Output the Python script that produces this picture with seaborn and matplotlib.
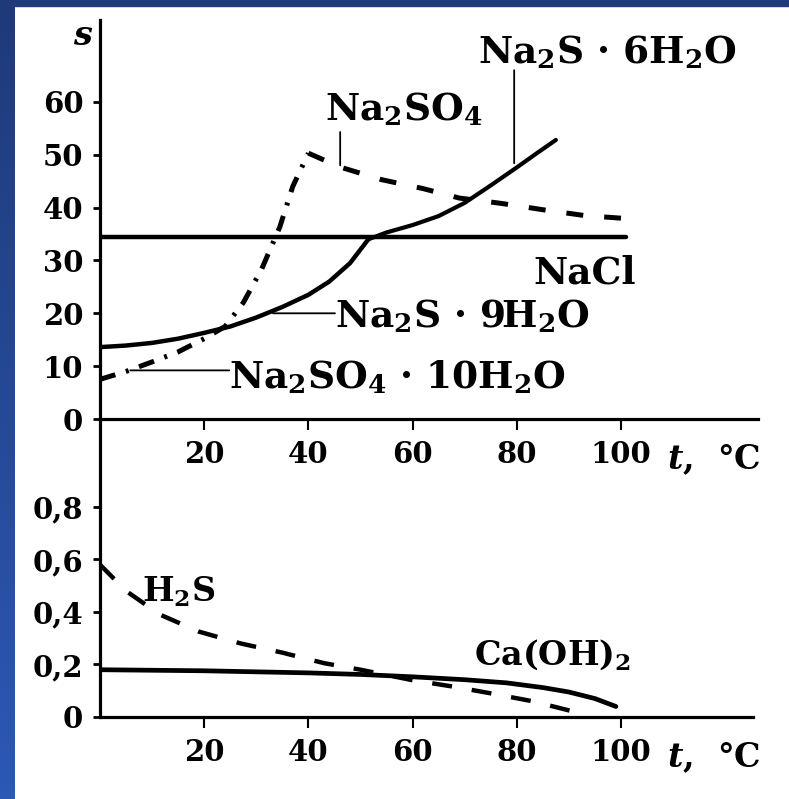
import numpy as np
import pandas as pd
import seaborn as sns
import matplotlib.pyplot as plt
from matplotlib.colors import LinearSegmentedColormap
from matplotlib.patches import Rectangle

# values (t in C, s = solubility)
t_na2s9 = [0, 5, 10, 15, 20, 25, 30, 35, 40, 44, 48, 51.5]
s_na2s9 = [13.6, 13.9, 14.4, 15.2, 16.3, 17.5, 19.2, 21.2, 23.5, 26, 29.5, 34]

t_na2s6 = [51.5, 55, 60, 65, 70, 75, 80, 84, 87.5]
s_na2s6 = [34, 35.3, 36.7, 38.4, 40.9, 44.2, 47.6, 50.4, 52.8]

t_na2so4_10 = [0, 5, 10, 15, 20, 24, 27.5, 31, 34.5, 37, 40]
s_na2so4_10 = [7.5, 9, 10.8, 12.7, 15.2, 17.5, 22, 28.3, 36.3, 44, 50.3]

t_na2so4 = [40, 46, 54, 62, 69, 77, 85, 93, 100]
s_na2so4 = [50.3, 47.7, 45.3, 43.6, 41.8, 40.8, 39.6, 38.5, 38]

t_nacl = [0, 20, 40, 60, 80, 101]
s_nacl = [34.5, 34.5, 34.5, 34.5, 34.5, 34.5]

t_caoh2 = [0, 10, 20, 30, 40, 50, 60, 70, 78, 85, 90, 95, 99]
s_caoh2 = [0.18, 0.178, 0.176, 0.172, 0.168, 0.162, 0.153, 0.142, 0.13, 0.112, 0.095, 0.07, 0.04]

t_h2s = [0, 5, 11.5, 19, 27, 35, 43, 50, 60, 68, 75, 83, 91]
s_h2s = [0.58, 0.48, 0.39, 0.325, 0.28, 0.245, 0.205, 0.18, 0.14, 0.115, 0.09, 0.06, 0.02]

x_ticks = [20, 40, 60, 80, 100]
top_yticks = [0, 10, 20, 30, 40, 50, 60]
bot_yticks = [0, 0.2, 0.4, 0.6, 0.8]
bot_ylabels = ['0', '0,2', '0,4', '0,6', '0,8']

sns.set_style('ticks')
plt.rcParams['font.family'] = ['DejaVu Serif']
plt.rcParams['font.weight'] = 'bold'
plt.rcParams['mathtext.fontset'] = 'dejavuserif'
plt.rcParams['mathtext.default'] = 'bf'
plt.rcParams['axes.linewidth'] = 2.3
for key in ('text.color', 'axes.labelcolor', 'axes.edgecolor',
            'xtick.color', 'ytick.color'):
    plt.rcParams[key] = 'black'

W, H = 789, 799
fig = plt.figure(figsize=(W / 100, H / 100), dpi=100)
fig.patch.set_facecolor('white')


def px_box(x0, y0, x1, y1):
    return [x0 / W, 1 - y1 / H, (x1 - x0) / W, (y1 - y0) / H]


# blue slide frame
bg = fig.add_axes([0, 0, 15 / W, 1])
cmap = LinearSegmentedColormap.from_list('frame', ['#1f3a78', '#2c58b6'])
bg.imshow(np.linspace(0, 1, 100).reshape(-1, 1), aspect='auto', cmap=cmap)
bg.axis('off')
fig.patches.append(Rectangle((0, 1 - 6 / H), 1, 6 / H, transform=fig.transFigure,
                             color='#1f3a78', zorder=0))

# lower axes box reaches up to the upper t axis, so the s line is continuous
ax1 = fig.add_axes(px_box(100, 20, 758, 419))
ax2 = fig.add_axes(px_box(100, 419, 753, 717))

for ax in (ax1, ax2):
    ax.set_facecolor('none')
    for side in ('top', 'right'):
        ax.spines[side].set_visible(False)
    ax.tick_params(axis='y', direction='out', length=5, width=2, pad=7,
                   labelsize=21, colors='black')
    ax.tick_params(axis='x', direction='out', length=8, width=1.5, pad=7,
                   labelsize=21, colors='black')
    ax.set_xticks(x_ticks)
    ax.set_xlabel('')
    ax.set_ylabel('')

solid = dict(color='black', lw=3.2)

# top panel
sns.lineplot(x=t_nacl, y=s_nacl, ax=ax1, **solid)
sns.lineplot(x=t_na2s9, y=s_na2s9, ax=ax1, **solid)
sns.lineplot(x=t_na2s6, y=s_na2s6, ax=ax1, color='black', lw=3)
sns.lineplot(x=t_na2so4, y=s_na2so4, ax=ax1, color='black', lw=3.6,
             linestyle=(0, (3.4, 4.2)))
sns.lineplot(x=t_na2so4_10, y=s_na2so4_10, ax=ax1, color='black', lw=3.6,
             linestyle=(0, (3.2, 2.2, 0.6, 2.2)))

ax1.set_xlim(0, 126.3)
ax1.set_ylim(0, 75.5)
ax1.set_yticks(top_yticks)

lbl = dict(fontsize=27, fontweight='bold', va='baseline', ha='left')
leader = dict(arrowstyle='-', lw=1.3, color='black', shrinkA=0, shrinkB=0)

ax1.text(43.2, 56.5, r'Na$_2$SO$_4$', **lbl)
ax1.annotate('', xy=(46.1, 48), xytext=(46.1, 54.3), arrowprops=leader)
ax1.text(72.6, 67.3, 'Na$_2$S · 6H$_2$O', **lbl)
ax1.annotate('', xy=(79.5, 48.4), xytext=(79.5, 66), arrowprops=leader)
ax1.text(83.1, 25.7, 'NaCl', **lbl)
ax1.text(45.1, 17.35, 'Na$_2$S · 9H$_2$O', **lbl)
ax1.annotate('', xy=(33.2, 20), xytext=(45.1, 20), arrowprops=leader)
ax1.text(24.8, 5.8, 'Na$_2$SO$_4$ · 10H$_2$O', **lbl)
ax1.annotate('', xy=(5.8, 9.2), xytext=(24.8, 9.2), arrowprops=leader)

unit = r'$\mathbfit{t}$,  °C'
ax1.text(108.8, -9.4, unit, fontsize=24, va='baseline', ha='left')

# bottom panel
sns.lineplot(x=t_caoh2, y=s_caoh2, ax=ax2, color='black', lw=3.4)
sns.lineplot(x=t_h2s, y=s_h2s, ax=ax2, color='black', lw=3.2,
             linestyle=(0, (4.5, 4.5)))
ax2.set_xlim(0, 125.3)
ax2.set_ylim(0, 298 / 262.6)
ax2.set_yticks(bot_yticks)
ax2.set_yticklabels(bot_ylabels)

ax2.text(8.1, 0.438, 'H$_2$S', fontsize=24, fontweight='bold', va='baseline')
ax2.text(71.8, 0.198, 'Ca(OH)$_2$', fontsize=24, fontweight='bold', va='baseline')
ax2.text(108.8, -0.19, unit, fontsize=24, va='baseline', ha='left')

fig.text(73 / W, 1 - 45 / H, 's', fontsize=24, fontstyle='italic',
         fontweight='bold', va='baseline')

fig.savefig('out.png', dpi=100)
